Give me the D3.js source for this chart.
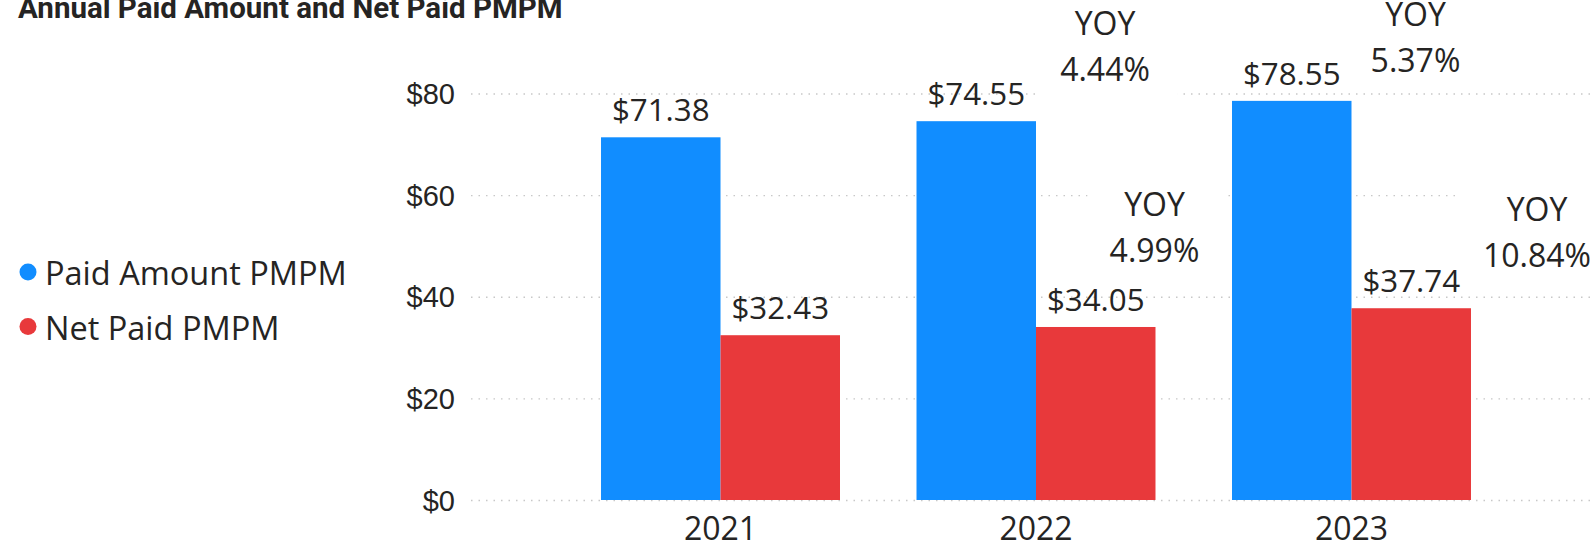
<!DOCTYPE html>
<html>
<head>
<meta charset="utf-8">
<script src="https://cdn.jsdelivr.net/npm/d3@7"></script>
<style>
  body { margin: 0; background: #fff; }
  svg { display: block; font-family: 'Segoe UI', 'Open Sans', sans-serif; }
</style>
</head>
<body>
<svg width="1595" height="544"></svg>
<script>
const width = 1595, height = 544;

// data
const years = ['2021', '2022', '2023'];
const seriesNames = ['Paid Amount PMPM', 'Net Paid PMPM'];
const paidAmount = [71.38, 74.55, 78.55];
const netPaid = [32.43, 34.05, 37.74];
const paidYoy = [null, 4.44, 5.37];   // % as printed in the report
const netYoy = [null, 4.99, 10.84];
const yTicks = [0, 20, 40, 60, 80];
const colors = ['#118DFF', '#E8393B'];

// YOY boxes were placed by hand in the report: nudge from the top-right corner of each bar
const yoyNudge = {
  'Paid Amount PMPM|2022': { dx: 69, dy: -40 },
  'Paid Amount PMPM|2023': { dx: 64, dy: -29 },
  'Net Paid PMPM|2022':    { dx: -1, dy: -65 },
  'Net Paid PMPM|2023':    { dx: 66, dy: -41 },
};

const svg = d3.select('svg');
const textColor = '#252423';

// Title (cut off at the top, as in the report)
svg.append('text')
  .attr('x', 18)
  .attr('y', 18)
  .style('font-family', 'Roboto, sans-serif')
  .style('font-weight', 700)
  .style('font-size', '29.5px')
  .attr('fill', textColor)
  .text('Annual Paid Amount and Net Paid PMPM');

// Scales
const plotLeft = 471;
const x0 = d3.scaleBand()
  .domain(years)
  .range([plotLeft + 3, width + 3])
  .paddingInner(0.2425)
  .paddingOuter(0.4026);

const x1 = d3.scaleBand()
  .domain(seriesNames)
  .range([0, x0.bandwidth()]);

const y = d3.scaleLinear()
  .domain([0, 80])
  .range([500, 93.5]);

// Gridlines + tick labels
const yAxis = d3.axisLeft(y)
  .tickValues(yTicks)
  .tickSize(-(width - plotLeft))
  .tickPadding(16)
  .tickFormat(d => '$' + d);

const gy = svg.append('g')
  .attr('transform', `translate(${plotLeft},0)`)
  .call(yAxis);
gy.select('.domain').remove();
gy.selectAll('.tick line')
  .attr('stroke', '#c8c8c8')
  .attr('stroke-width', 1.3)
  .attr('stroke-dasharray', '1.5,6');
gy.selectAll('.tick text')
  .attr('fill', textColor)
  .style('font-size', '29px')
  .attr('dy', '0.35em');

// Flat table of bars
const rows = [];
years.forEach((yr, i) => {
  rows.push({ year: yr, series: seriesNames[0], value: paidAmount[i], yoy: paidYoy[i] });
  rows.push({ year: yr, series: seriesNames[1], value: netPaid[i], yoy: netYoy[i] });
});

// YOY labels (with white backgrounds that hide the gridlines)
const yoyRows = rows.filter(d => d.yoy !== null);
const yoyGroups = svg.append('g')
  .selectAll('g')
  .data(yoyRows)
  .enter()
  .append('g')
  .attr('transform', d => {
    const n = yoyNudge[d.series + '|' + d.year];
    const cx = x0(d.year) + x1(d.series) + x1.bandwidth() + n.dx;
    const cy = y(d.value) + n.dy;
    return `translate(${cx},${cy})`;
  });

yoyGroups.append('rect').attr('fill', '#fff');

yoyGroups.append('text')
  .attr('text-anchor', 'middle')
  .attr('y', -46)
  .attr('fill', textColor)
  .style('font-size', '32px')
  .text('YOY');

yoyGroups.append('text')
  .attr('class', 'pct')
  .attr('text-anchor', 'middle')
  .attr('y', 0)
  .attr('fill', textColor)
  .style('font-size', '32px')
  .text(d => d.yoy.toFixed(2) + '%');

yoyGroups.each(function() {
  const g = d3.select(this);
  const b = g.select('.pct').node().getBBox();
  g.select('rect')
    .attr('x', b.x - 22)
    .attr('y', -78)
    .attr('width', b.width + 50)
    .attr('height', 93);
});

// Bars
svg.append('g')
  .selectAll('rect')
  .data(rows)
  .enter()
  .append('rect')
  .attr('x', d => x0(d.year) + x1(d.series))
  .attr('y', d => y(d.value))
  .attr('width', x1.bandwidth())
  .attr('height', d => y(0) - y(d.value))
  .attr('fill', d => colors[seriesNames.indexOf(d.series)]);

// Value labels
svg.append('g')
  .selectAll('text')
  .data(rows)
  .enter()
  .append('text')
  .attr('x', d => x0(d.year) + x1(d.series) + x1.bandwidth() / 2)
  .attr('y', d => y(d.value) - 16)
  .attr('text-anchor', 'middle')
  .attr('fill', textColor)
  .style('font-size', '31.3px')
  .text(d => d3.format('$.2f')(d.value));

// X labels
svg.append('g')
  .selectAll('text')
  .data(years)
  .enter()
  .append('text')
  .attr('x', d => x0(d) + x0.bandwidth() / 2)
  .attr('y', 540)
  .attr('text-anchor', 'middle')
  .attr('fill', textColor)
  .style('font-size', '32px')
  .text(d => d);

// Legend
const legend = svg.append('g')
  .selectAll('g')
  .data(seriesNames)
  .enter()
  .append('g')
  .attr('transform', (d, i) => `translate(28,${272 + i * 54.5})`);

legend.append('circle')
  .attr('r', 8.5)
  .attr('fill', (d, i) => colors[i]);

legend.append('text')
  .attr('x', 17)
  .attr('y', 13)
  .attr('fill', textColor)
  .style('font-size', '32.5px')
  .text(d => d);
</script>
</body>
</html>
